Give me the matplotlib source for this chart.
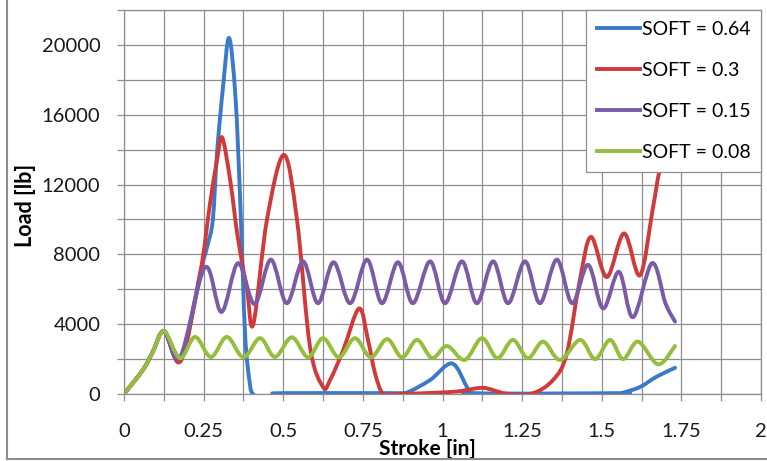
"""Load vs stroke for four SOFT settings (Excel-style smoothed lines)."""

import matplotlib

matplotlib.use("Agg")
import matplotlib.pyplot as plt
import numpy as np
from matplotlib.lines import Line2D
from matplotlib.patches import PathPatch
from matplotlib.path import Path
from matplotlib.ticker import MultipleLocator

# ---- data (stroke in inches, load in lb) ----
x_soft064 = [0, 0.06, 0.09, 0.126, 0.178, 0.239, 0.262, 0.279, 0.292, 0.311, 0.33,
             0.35, 0.365, 0.38, 0.395, 0.405, 0.43, 0.47, 0.5, 0.85, 0.89, 0.961,
             1.03, 1.077, 1.1, 1.55, 1.567, 1.62, 1.673, 1.73]
y_soft064 = [0, 1400, 2400, 3600, 1900, 6900, 8500, 10000, 13800, 17600, 20400,
             17000, 11000, 3500, 600, 0, -400, -50, 50, 50, 100, 800,
             1750, 400, 50, 50, 80, 400, 1000, 1500]

x_soft030 = [0, 0.06, 0.09, 0.126, 0.178, 0.239, 0.27, 0.292, 0.308, 0.333, 0.357,
             0.386, 0.406, 0.449, 0.502, 0.543, 0.584, 0.625, 0.647, 0.688, 0.738,
             0.766, 0.788, 0.813, 0.85, 0.95, 1.05, 1.127, 1.2, 1.28, 1.347, 1.39,
             1.43, 1.466, 1.516, 1.57, 1.62, 1.661, 1.683, 1.73]
y_soft030 = [0, 1400, 2400, 3600, 1900, 6900, 10900, 13400, 14700, 12300, 9000,
             6000, 4000, 10000, 13700, 10000, 2700, 400, 800, 2500, 4900,
             3100, 1200, 0, 0, 50, 150, 350, 20, 20, 800, 2300,
             6400, 9000, 6700, 9200, 6800, 10700, 12950, 16500]

x_soft015 = [0, 0.06, 0.09, 0.126, 0.176, 0.254, 0.306, 0.358, 0.41, 0.461, 0.511,
             0.562, 0.609, 0.658, 0.71, 0.763, 0.81, 0.86, 0.907, 0.961, 1.008,
             1.061, 1.108, 1.159, 1.206, 1.259, 1.306, 1.359, 1.407, 1.457, 1.504,
             1.554, 1.598, 1.658, 1.70, 1.73]
y_soft015 = [0, 1400, 2400, 3600, 2100, 7250, 4700, 7500, 5150, 7700, 5200,
             7600, 5200, 7550, 5200, 7700, 5200, 7550, 5200, 7600, 5200,
             7600, 5200, 7600, 5200, 7600, 5200, 7700, 5200, 7400, 4900,
             7000, 4400, 7500, 5200, 4150]

x_soft008 = [0, 0.06, 0.09, 0.126, 0.176, 0.223, 0.273, 0.323, 0.375, 0.427, 0.474,
             0.527, 0.578, 0.625, 0.675, 0.725, 0.775, 0.826, 0.873, 0.92, 0.967,
             1.014, 1.07, 1.124, 1.172, 1.221, 1.268, 1.316, 1.369, 1.432, 1.479,
             1.526, 1.567, 1.614, 1.677, 1.73]
y_soft008 = [0, 1400, 2400, 3600, 2050, 3270, 2120, 3270, 2100, 3200, 2120,
             3250, 2100, 3200, 2100, 3200, 2100, 3150, 2100, 3100, 2060,
             2750, 1950, 3200, 2050, 3100, 2050, 3000, 1950, 3100, 2000,
             3100, 2000, 3000, 1700, 2750]

labels = ["SOFT = 0.64", "SOFT = 0.3", "SOFT = 0.15", "SOFT = 0.08"]
colors = ["#3A7AC8", "#D2393B", "#7B5BA6", "#94BE3C"]
series = [(x_soft064, y_soft064), (x_soft030, y_soft030),
          (x_soft015, y_soft015), (x_soft008, y_soft008)]

x_ticks = [0, 0.25, 0.5, 0.75, 1, 1.25, 1.5, 1.75, 2]
x_ticklabels = ["0", "0.25", "0.5", "0.75", "1", "1.25", "1.5", "1.75", "2"]
y_ticks = [0, 4000, 8000, 12000, 16000, 20000]

GRID = "#8E8E8E"


def smooth_path(xs, ys):
    """Bezier path through the points, like Excel's smoothed line."""
    pts = np.column_stack([xs, ys]).astype(float)
    verts = [pts[0]]
    codes = [Path.MOVETO]
    n = len(pts)
    for i in range(n - 1):
        p0 = pts[max(i - 1, 0)]
        p1 = pts[i]
        p2 = pts[i + 1]
        p3 = pts[min(i + 2, n - 1)]
        c1 = p1 + (p2 - p0) / 6.0
        c2 = p2 - (p3 - p1) / 6.0
        verts += [c1, c2, p2]
        codes += [Path.CURVE4] * 3
    return Path(verts, codes)


plt.rcParams["font.family"] = ["Lato", "DejaVu Sans"]

fig = plt.figure(figsize=(7.67, 4.61), dpi=100)
ax = fig.add_axes([124 / 767, 67 / 461, 637 / 767, 384 / 461])

for (xs, ys), color in zip(series, colors):
    patch = PathPatch(smooth_path(xs, ys), facecolor="none", edgecolor=color,
                      linewidth=2.8, capstyle="round", joinstyle="round")
    ax.add_patch(patch)

ax.set_xlim(0, 2)
ax.set_ylim(0, 22000)
ax.set_xticks(x_ticks)
ax.set_xticklabels(x_ticklabels)
ax.set_yticks(y_ticks)
ax.set_yticklabels([str(v) for v in y_ticks])
ax.xaxis.set_minor_locator(MultipleLocator(0.125))
ax.yaxis.set_minor_locator(MultipleLocator(2000))

ax.grid(True, which="both", color=GRID, linewidth=0.9)
ax.set_axisbelow(True)
for spine in ax.spines.values():
    spine.set_color(GRID)
    spine.set_linewidth(0.9)

ax.tick_params(axis="both", which="both", direction="out", length=5,
               width=0.9, color=GRID, labelsize=14.5, labelcolor="#1a1a1a")
ax.tick_params(axis="x", which="both", pad=16)
ax.tick_params(axis="y", which="both", pad=12)

ax.set_xlabel("Stroke [in]", fontsize=15, fontweight="bold", va="center")
ax.xaxis.set_label_coords((427 - 124) / 637, -(449 - 394) / 384)
ax.set_ylabel("Load [lb]", fontsize=15.5, fontweight="bold", va="center")
ax.yaxis.set_label_coords((26 - 124) / 637, (394 - 205) / 384)

handles = [Line2D([], [], color=c, linewidth=2.8) for c in colors]
leg = ax.legend(handles, labels, loc="upper right", bbox_to_anchor=(1, 1),
                borderaxespad=0, fontsize=14, fancybox=False, framealpha=1,
                edgecolor=GRID, handlelength=2.2, handletextpad=0.1,
                labelspacing=1.24, borderpad=0.55)
leg.get_frame().set_linewidth(0.9)
leg.set_zorder(5)

# chart-area frame visible on the left and bottom edges
fig.add_artist(Line2D([7 / 767, 7 / 767], [2 / 461, 1], color=GRID, linewidth=1.5,
                      transform=fig.transFigure))
fig.add_artist(Line2D([7 / 767, 1], [2 / 461, 2 / 461], color=GRID, linewidth=1.5,
                      transform=fig.transFigure))

fig.savefig("out.png", dpi=100)
